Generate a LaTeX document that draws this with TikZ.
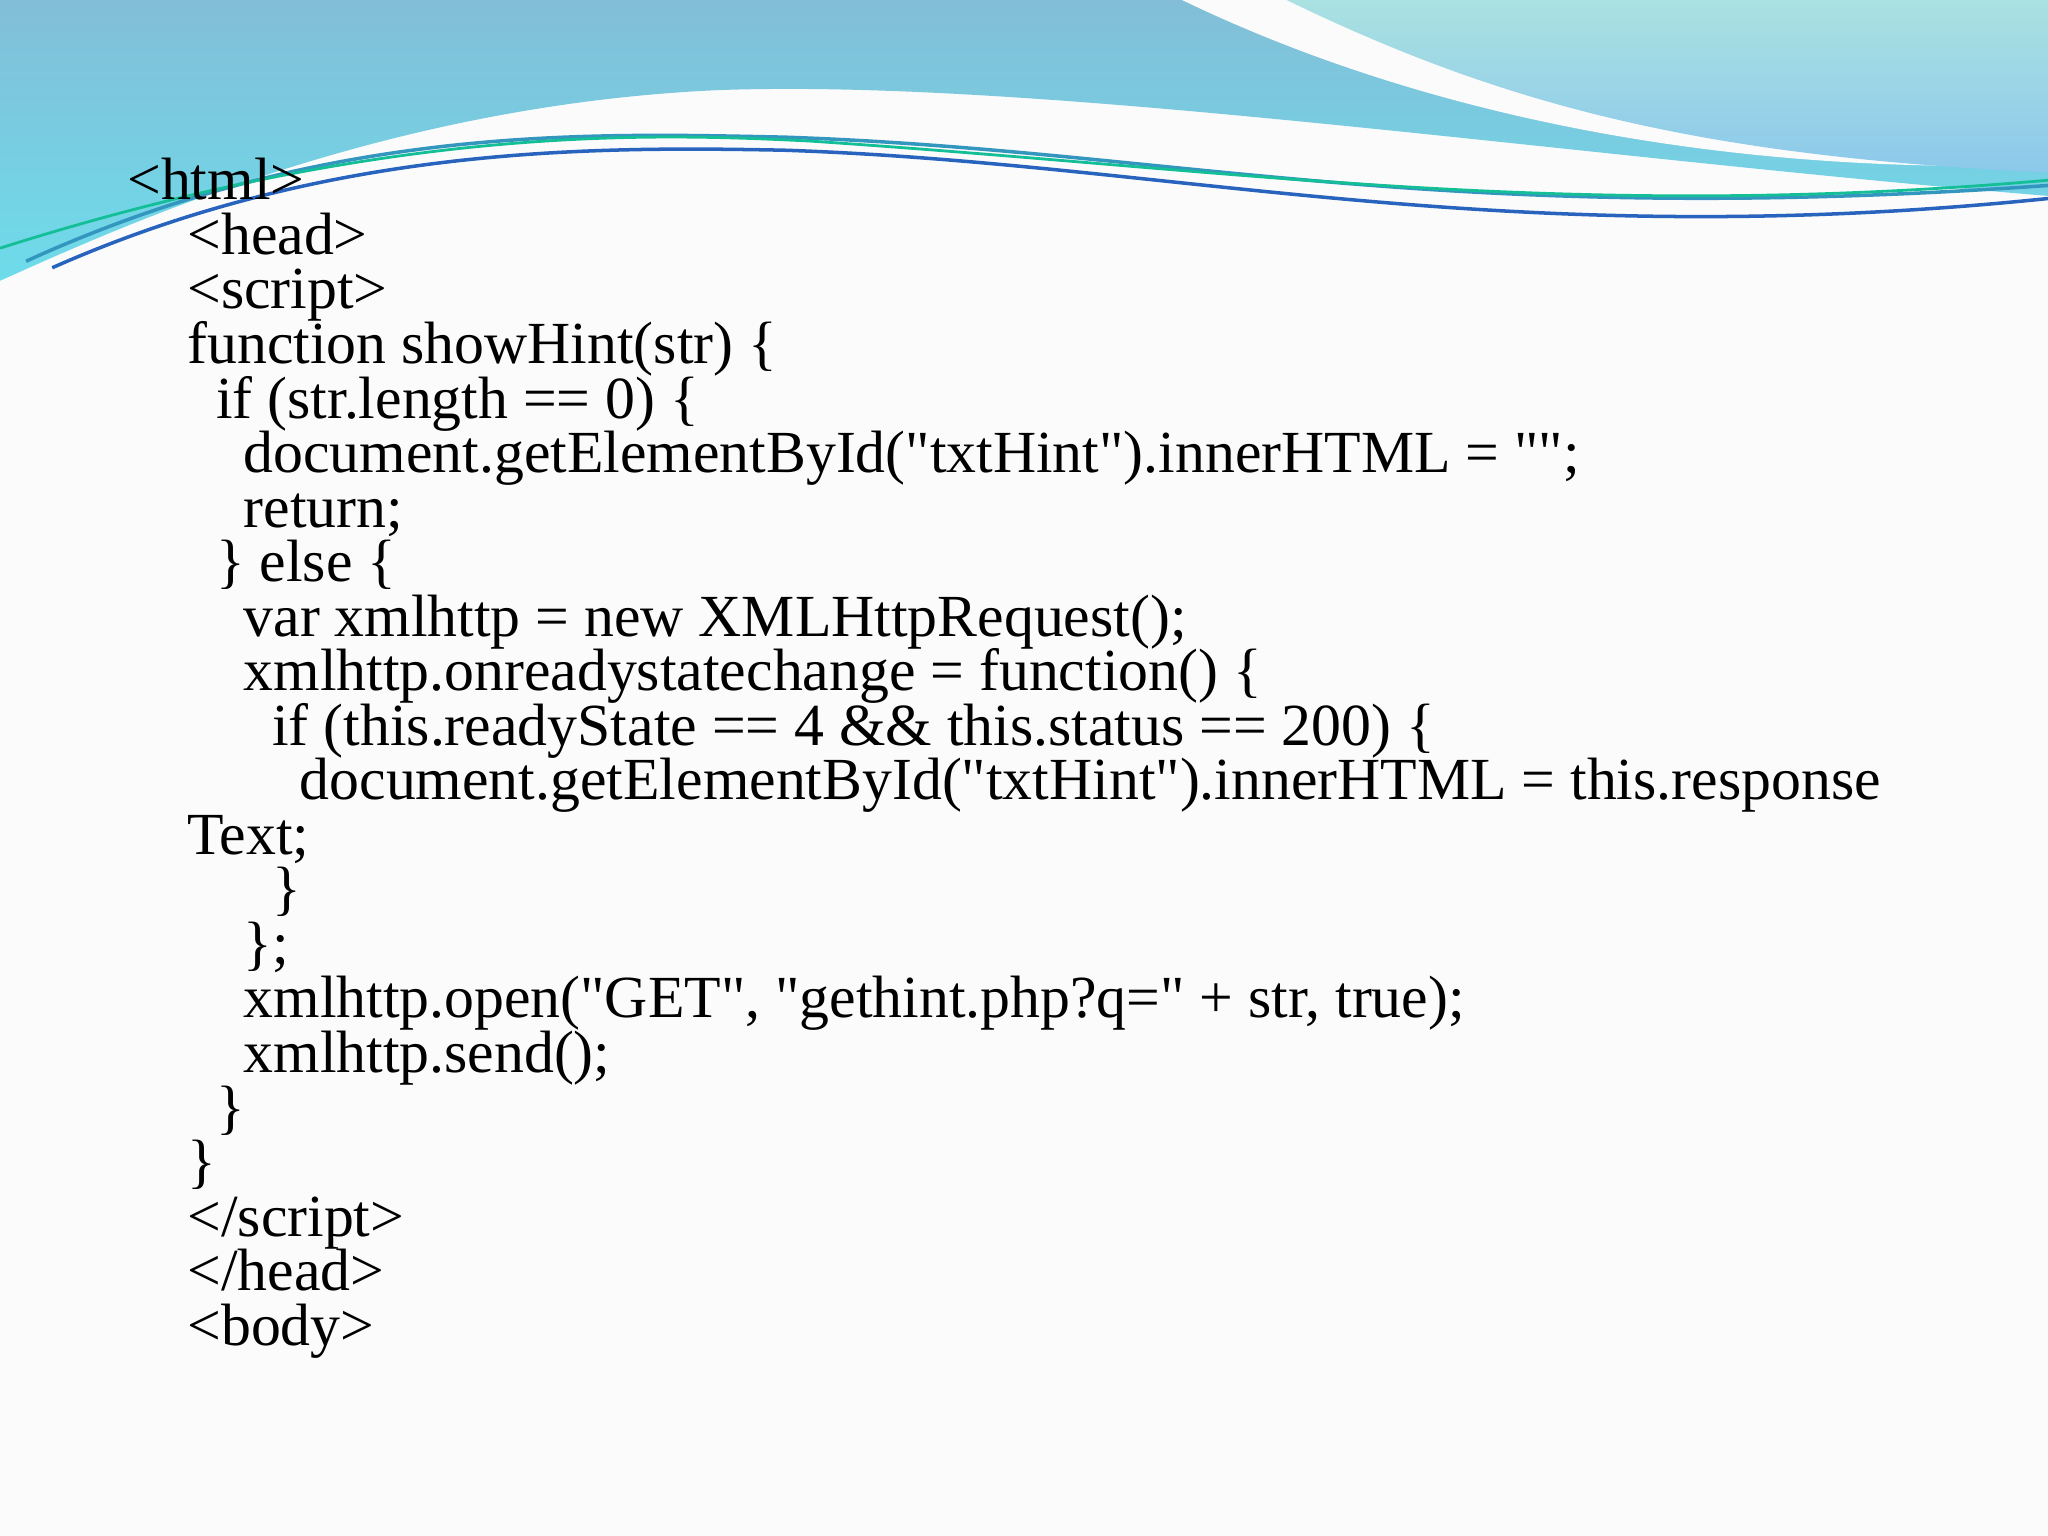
\documentclass[tikz,border=0pt]{standalone}
\usepackage{fontspec}
\setmainfont[Ligatures=TeXOff]{Liberation Serif}
\newcommand{\qq}{\char34{}}
\begin{document}
\begin{tikzpicture}[x=0.013061cm,y=-0.013061cm,
  code/.style={anchor=base west,inner sep=0pt,font=\fontsize{17}{18}\selectfont}]
\useasboundingbox (0,0) rectangle (1568,1176);
\fill[white!97!gray] (0,0) rectangle (1568,1176);
% main blue wave
\shade[top color={rgb,255:red,130;green,190;blue,215},bottom color={rgb,255:red,110;green,220;blue,235}]
 (0,0) -- (1568,0) -- (1568,150) .. controls (1200,120) and (800,60) .. (550,69)
 .. controls (300,80) and (100,170) .. (0,215) -- cycle;
% white gap
\fill[white!97!gray] (905,0) .. controls (1050,70) and (1250,125) .. (1500,127)
 -- (1568,130) -- (1568,0) -- cycle;
% light top right
\shade[top color={rgb,255:red,170;green,225;blue,225},bottom color={rgb,255:red,140;green,200;blue,235}]
 (985,0) .. controls (1150,80) and (1300,120) .. (1568,132) -- (1568,0) -- cycle;
% lines
\draw[line width=1pt,color={rgb,255:red,50;green,150;blue,190}] (20,200) .. controls (250,95) and (450,102) .. (600,105) .. controls (900,115) and (1100,175) .. (1568,142);
\draw[line width=1pt,color={rgb,255:red,40;green,100;blue,190}] (40,205) .. controls (250,112) and (450,112) .. (600,115) .. controls (900,125) and (1150,195) .. (1568,152);
\draw[line width=0.8pt,color={rgb,255:red,20;green,190;blue,150}] (0,190) .. controls (300,95) and (500,102) .. (620,108) .. controls (950,130) and (1200,170) .. (1568,138);
\foreach \i/\x/\t in {
0/97/{<html>},
1/143/{<head>},
2/143/{<script>},
3/143/{function showHint(str) \{},
4/165/{if (str.length == 0) \{},
5/186/{document.getElementById(\qq txtHint\qq).innerHTML = \qq\qq;},
6/186/{return;},
7/165/{\} else \{},
8/186/{var xmlhttp = new XMLHttpRequest();},
9/186/{xmlhttp.onreadystatechange = function() \{},
10/208/{if (this.readyState == 4 \&\& this.status == 200) \{},
11/229/{document.getElementById(\qq txtHint\qq).innerHTML = this.response},
12/143/{Text;},
13/208/{\}},
14/186/{\};},
15/186/{xmlhttp.open(\qq GET\qq, \qq gethint.php?q=\qq{} + str, true);},
16/186/{xmlhttp.send();},
17/165/{\}},
18/143/{\}},
19/143/{</script>},
20/143/{</head>},
21/143/{<body>}}
  \node[code] (l\i) at (\x,{153+41.76*\i}) {\t};
\end{tikzpicture}
\end{document}
